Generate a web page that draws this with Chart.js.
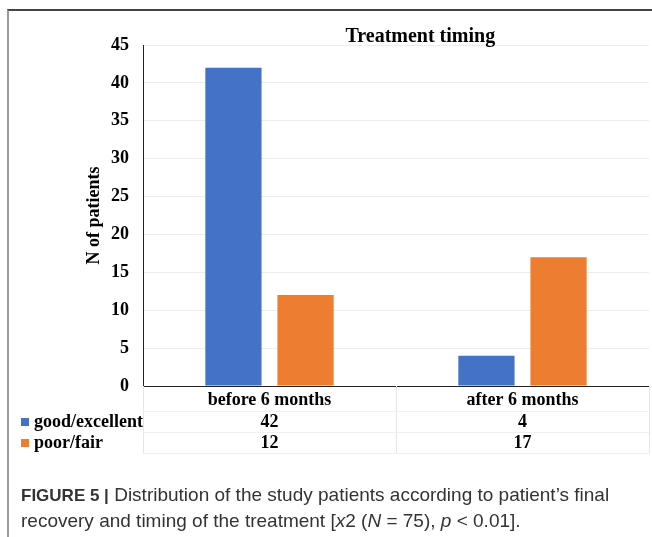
<!DOCTYPE html>
<html>
<head>
<meta charset="utf-8">
<script src="https://cdn.jsdelivr.net/npm/chart.js@4/dist/chart.umd.min.js"></script>
<style>
  html, body { margin: 0; padding: 0; background: #fff; }
  #wrap { position: relative; width: 652px; height: 537px; overflow: hidden; }
  #frame { position: absolute; left: 7px; top: 9px; right: -4px; bottom: -4px;
           border-top: 2px solid #444; border-left: 2px solid #9a9a9a; }
  #chart { position: absolute; left: 0; top: 0; }
  #caption { position: absolute; left: 21px; top: 482px; width: 625px;
             font-family: "Liberation Sans Narrow", "Liberation Sans", Arial, sans-serif;
             font-size: 19px; line-height: 25px; color: #333; }
  #caption b { font-family: "Liberation Sans", Arial, sans-serif; font-size: 17px; }
</style>
</head>
<body>
<div id="wrap">
  <div id="frame"></div>
  <canvas id="chart" width="652" height="537"></canvas>
  <div id="caption"><b>FIGURE 5 |</b> Distribution of the study patients according to patient’s final recovery and timing of the treatment [<i>x</i>2 (<i>N</i> = 75), <i>p</i> &lt; 0.01].</div>
</div>
<script>
// Patient counts by timing of treatment and final recovery
const categories = ['before 6 months', 'after 6 months'];
const seriesNames = ['good/excellent', 'poor/fair'];
const goodExcellent = [42, 4];
const poorFair = [12, 17];
const seriesValues = [goodExcellent, poorFair];
const seriesColors = ['#4472C4', '#ED7D31'];
const chartTitle = 'Treatment timing';
const yTitle = 'N of patients';

const serif = '"Liberation Serif", "Times New Roman", serif';

// Title over the plot and the data table under the category axis
const tablePlugin = {
  id: 'dataTable',
  afterDraw(chart) {
    const ctx = chart.ctx;
    const area = chart.chartArea;
    const x = chart.scales.x;
    const rowY = [422, 443];
    ctx.save();

    ctx.font = 'bold 20px ' + serif;
    ctx.fillStyle = '#000';
    ctx.textAlign = 'center';
    ctx.textBaseline = 'middle';
    ctx.fillText(chartTitle, area.left + (area.right - area.left) * 0.548, area.top - 8);

    // table grid
    ctx.strokeStyle = '#e6e6e6';
    ctx.lineWidth = 1;
    const bounds = [area.left];
    for (let i = 0; i < categories.length - 1; i++) {
      bounds.push((x.getPixelForValue(i) + x.getPixelForValue(i + 1)) / 2);
    }
    bounds.push(area.right);
    const tableBottom = rowY[rowY.length - 1] + 10.5;
    bounds.forEach(bx => {
      ctx.beginPath();
      ctx.moveTo(Math.round(bx) + 0.5, area.bottom);
      ctx.lineTo(Math.round(bx) + 0.5, tableBottom);
      ctx.stroke();
    });
    ctx.strokeStyle = '#f0f0f0';
    [area.bottom + 25.5, rowY[0] + 10.5, tableBottom].forEach(hy => {
      ctx.beginPath();
      ctx.moveTo(area.left, hy);
      ctx.lineTo(area.right, hy);
      ctx.stroke();
    });

    ctx.font = 'bold 18px ' + serif;
    seriesNames.forEach((name, r) => {
      const y = rowY[r];
      ctx.fillStyle = seriesColors[r];
      ctx.fillRect(21, y - 4, 8, 8);
      ctx.fillStyle = '#000';
      ctx.textAlign = 'left';
      ctx.fillText(name, 34, y);
      ctx.textAlign = 'center';
      seriesValues[r].forEach((v, c) => {
        ctx.fillText(String(v), x.getPixelForValue(c), y);
      });
    });
    ctx.restore();
  }
};

new Chart(document.getElementById('chart'), {
  type: 'bar',
  data: {
    labels: categories,
    datasets: seriesNames.map((name, i) => ({
      label: name,
      data: seriesValues[i],
      backgroundColor: seriesColors[i],
      borderWidth: 0,
      categoryPercentage: 0.57,
      barPercentage: 0.78
    }))
  },
  options: {
    responsive: false,
    animation: false,
    layout: { padding: { left: 0, right: 3, top: 45, bottom: 0 } },
    plugins: {
      legend: { display: false },
      tooltip: { enabled: false },
      title: { display: false }
    },
    scales: {
      x: {
        grid: { display: false, drawTicks: false },
        border: { color: '#222', width: 1 },
        ticks: { color: '#000', font: { family: serif, size: 18, weight: 'bold' }, padding: 4 },
        afterFit(scale) { scale.height = 151; }
      },
      y: {
        min: 0,
        max: 45,
        ticks: { stepSize: 5, color: '#000', font: { family: serif, size: 18, weight: 'bold' }, padding: 14 },
        grid: { color: '#ececec', drawTicks: false },
        border: { color: '#222', width: 1 },
        title: {
          display: true,
          text: yTitle,
          color: '#000',
          font: { family: serif, size: 18, weight: 'bold' },
          padding: { top: 84, bottom: 0 }
        },
        afterFit(scale) { scale.width = 143; }
      }
    }
  },
  plugins: [tablePlugin]
});
</script>
</body>
</html>
